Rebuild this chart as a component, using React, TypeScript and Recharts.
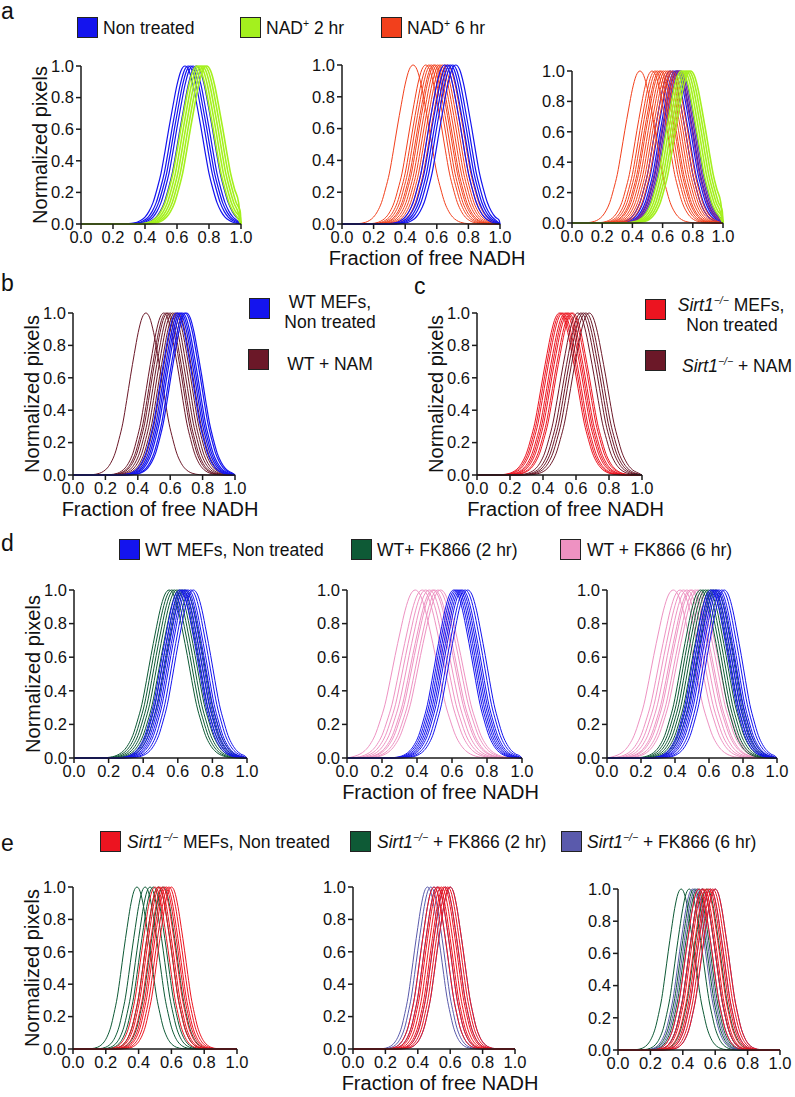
import React from 'react';
import { LineChart, Line, XAxis, YAxis } from 'recharts';

const X_TICKS = [0, 0.2, 0.4, 0.6, 0.8, 1.0];
const Y_TICKS = [0, 0.2, 0.4, 0.6, 0.8, 1.0];

// half of one normalised trace: offset from the peak (in spreads) and height
const SHAPE_OFFSETS = [0, 0.25, 0.5, 0.75, 1, 1.25, 1.5, 1.75, 2, 2.25, 2.5, 2.75, 3, 3.5, 4];
const SHAPE_HEIGHTS = [1, 0.97, 0.88, 0.75, 0.61, 0.46, 0.32, 0.22, 0.135, 0.08, 0.044, 0.023, 0.011, 0.002, 0];

const BLUE = '#1414ee';
const LIME = '#a4f01e';
const ORANGE = '#f2401c';
const PURPLE = '#7a2a9a';
const MAROON = '#6b1828';
const RED = '#ec1420';
const DKGREEN = '#0e5a36';
const PINK = '#ee92c2';
const SLATE = '#5a5aac';

// peak positions (fraction of free NADH), one value per cell trace
const aNonTreated = [0.65, 0.67, 0.685, 0.7, 0.72];
const aNad2 = [0.725, 0.74, 0.755, 0.77, 0.785];
const aNad6 = [0.45, 0.53, 0.55, 0.565, 0.58, 0.59, 0.605, 0.62, 0.635, 0.65, 0.665];
const aOverlap = [0.695, 0.71];
const bWt = [0.64, 0.655, 0.665, 0.675, 0.69, 0.7];
const bNam = [0.45, 0.56, 0.575, 0.585, 0.6, 0.615, 0.63, 0.645];
const cSirt = [0.5, 0.51, 0.52, 0.535, 0.545, 0.555, 0.57, 0.58];
const cNam = [0.61, 0.63, 0.645, 0.66, 0.68];
const dWt = [0.61, 0.62, 0.63, 0.64, 0.65, 0.66, 0.675, 0.69];
const dFk2 = [0.55, 0.565, 0.58, 0.595, 0.61, 0.625, 0.64];
const dFk6 = [0.39, 0.43, 0.45, 0.47, 0.49, 0.5, 0.52, 0.535];
const eSirt = [0.5, 0.52, 0.53, 0.545, 0.56, 0.57, 0.585, 0.6];
const eFk2 = [0.39, 0.44, 0.47, 0.49, 0.52, 0.55];
const eFk6 = [0.46, 0.48, 0.5, 0.52, 0.57, 0.6];

type Group = { peaks: number[]; spread: number; color: string; width: number };
type Plot = {
  left: number;
  top: number;
  right: number;
  bottom: number;
  groups: Group[];
  yTitle?: boolean;
  xTitle?: boolean;
};

const buildTrace = (peak: number, spread: number) => {
  const offs = [...SHAPE_OFFSETS.slice(1).reverse().map((o) => -o), ...SHAPE_OFFSETS];
  const hs = [...SHAPE_HEIGHTS.slice(1).reverse(), ...SHAPE_HEIGHTS];
  const pts = [{ x: 0, y: 0 }];
  offs.forEach((o, i) => {
    const x = peak + o * spread;
    if (x > 0 && x < 1) pts.push({ x, y: hs[i] });
  });
  pts.push({ x: 1, y: 0 });
  return pts;
};

const plots: Plot[] = [
  {
    left: 81, top: 66, right: 241, bottom: 224, yTitle: true,
    groups: [
      { peaks: aNonTreated, spread: 0.1, color: BLUE, width: 1.2 },
      { peaks: aNad2, spread: 0.1, color: LIME, width: 1.6 },
    ],
  },
  {
    left: 342, top: 65, right: 500, bottom: 224, xTitle: true,
    groups: [
      { peaks: aNad6, spread: 0.1, color: ORANGE, width: 1 },
      { peaks: aNonTreated, spread: 0.1, color: BLUE, width: 1.2 },
    ],
  },
  {
    left: 572, top: 71, right: 723, bottom: 223,
    groups: [
      { peaks: aNonTreated, spread: 0.1, color: BLUE, width: 1.2 },
      { peaks: aOverlap, spread: 0.1, color: PURPLE, width: 1.4 },
      { peaks: aNad6, spread: 0.1, color: ORANGE, width: 1 },
      { peaks: aNad2, spread: 0.1, color: LIME, width: 1.6 },
    ],
  },
  {
    left: 73, top: 313, right: 235, bottom: 475, yTitle: true, xTitle: true,
    groups: [
      { peaks: bNam, spread: 0.095, color: MAROON, width: 1 },
      { peaks: bWt, spread: 0.095, color: BLUE, width: 1.2 },
    ],
  },
  {
    left: 477, top: 313, right: 642, bottom: 475, yTitle: true, xTitle: true,
    groups: [
      { peaks: cSirt, spread: 0.1, color: RED, width: 1 },
      { peaks: cNam, spread: 0.1, color: MAROON, width: 1 },
    ],
  },
  {
    left: 74, top: 590, right: 247, bottom: 758, yTitle: true,
    groups: [
      { peaks: dFk2, spread: 0.105, color: DKGREEN, width: 1 },
      { peaks: dWt, spread: 0.1, color: BLUE, width: 1 },
    ],
  },
  {
    left: 347, top: 590, right: 522, bottom: 758, xTitle: true,
    groups: [
      { peaks: dFk6, spread: 0.115, color: PINK, width: 1 },
      { peaks: dWt, spread: 0.1, color: BLUE, width: 1 },
    ],
  },
  {
    left: 607, top: 590, right: 777, bottom: 758,
    groups: [
      { peaks: dFk6, spread: 0.115, color: PINK, width: 1 },
      { peaks: dFk2, spread: 0.105, color: DKGREEN, width: 1 },
      { peaks: dWt, spread: 0.1, color: BLUE, width: 1 },
    ],
  },
  {
    left: 73, top: 887, right: 237, bottom: 1049, yTitle: true,
    groups: [
      { peaks: eFk2, spread: 0.08, color: DKGREEN, width: 1 },
      { peaks: eSirt, spread: 0.08, color: RED, width: 1 },
    ],
  },
  {
    left: 353, top: 887, right: 515, bottom: 1049, xTitle: true,
    groups: [
      { peaks: eFk6, spread: 0.08, color: SLATE, width: 1 },
      { peaks: eSirt, spread: 0.08, color: RED, width: 1 },
    ],
  },
  {
    left: 618, top: 889, right: 780, bottom: 1050,
    groups: [
      { peaks: eFk2, spread: 0.08, color: DKGREEN, width: 1 },
      { peaks: eFk6, spread: 0.08, color: SLATE, width: 1 },
      { peaks: eSirt, spread: 0.08, color: RED, width: 1 },
    ],
  },
];

const FONT = '"Liberation Sans", Arial, Helvetica, sans-serif';
const Y_AXIS_W = 62;
const TOP = 10;
const RIGHT = 40;
const X_AXIS_H = 50;
const fmt = (v: number) => v.toFixed(1);

const TracePlot = ({ p, idx }: { p: Plot; idx: number }) => {
  const plotW = p.right - p.left;
  const plotH = p.bottom - p.top;
  const axisStyle = { stroke: '#1a1a1a', strokeWidth: 1.5 };
  return (
    <div style={{ position: 'absolute', left: p.left - Y_AXIS_W, top: p.top - TOP }}>
      <LineChart
        width={Y_AXIS_W + plotW + RIGHT}
        height={TOP + plotH + X_AXIS_H}
        margin={{ top: TOP, right: RIGHT, bottom: 0, left: 0 }}
      >
        <XAxis
          type="number"
          dataKey="x"
          domain={[0, 1]}
          ticks={X_TICKS}
          tickFormatter={fmt}
          height={X_AXIS_H}
          axisLine={axisStyle}
          tickLine={axisStyle}
          tickSize={5}
          tickMargin={2}
          tick={{ fill: '#111', fontSize: 16.5, fontFamily: FONT }}
          label={
            p.xTitle
              ? { value: 'Fraction of free NADH', position: 'insideBottom', offset: 9, dx: 6, fill: '#111', fontSize: 20, fontFamily: FONT }
              : undefined
          }
        />
        <YAxis
          type="number"
          dataKey="y"
          domain={[0, 1]}
          ticks={Y_TICKS}
          tickFormatter={fmt}
          width={Y_AXIS_W}
          axisLine={axisStyle}
          tickLine={axisStyle}
          tickSize={5}
          tickMargin={2}
          tick={{ fill: '#111', fontSize: 16.5, fontFamily: FONT }}
          label={
            p.yTitle
              ? { value: 'Normalized pixels', angle: -90, position: 'insideLeft', offset: 21, fill: '#111', fontSize: 20, fontFamily: FONT, style: { textAnchor: 'middle' } }
              : undefined
          }
        />
        {p.groups.flatMap((g, gi) =>
          g.peaks.map((pk, i) => (
            <Line
              key={`${idx}-${gi}-${i}`}
              data={buildTrace(pk, g.spread)}
              dataKey="y"
              type="monotone"
              stroke={g.color}
              strokeWidth={g.width}
              dot={false}
              activeDot={false}
              isAnimationActive={false}
            />
          ))
        )}
      </LineChart>
    </div>
  );
};

const Sirt = () => (
  <>
    <i>Sirt1</i>
    <sup style={{ fontSize: '0.6em', fontStyle: 'italic', lineHeight: 0 }}>−/−</sup>
  </>
);
const NadPlus = () => (
  <>
    NAD<sup style={{ fontSize: '0.6em', lineHeight: 0 }}>+</sup>
  </>
);

type Swatch = { x: number; y: number; color: string };
const swatches: Swatch[] = [
  { x: 77, y: 17, color: BLUE },
  { x: 240, y: 17, color: LIME },
  { x: 381, y: 17, color: ORANGE },
  { x: 249, y: 298, color: BLUE },
  { x: 248, y: 349, color: MAROON },
  { x: 645, y: 299, color: RED },
  { x: 645, y: 350, color: MAROON },
  { x: 119, y: 539, color: BLUE },
  { x: 351, y: 539, color: DKGREEN },
  { x: 560, y: 539, color: PINK },
  { x: 100, y: 831, color: RED },
  { x: 350, y: 831, color: DKGREEN },
  { x: 561, y: 831, color: SLATE },
];

const Txt = ({ x, y, children, center }: { x: number; y: number; children: React.ReactNode; center?: boolean }) => (
  <div
    style={{
      position: 'absolute',
      left: center ? x - 80 : x,
      width: center ? 160 : undefined,
      textAlign: center ? 'center' : 'left',
      top: y - 9,
      height: 18,
      lineHeight: '18px',
      fontSize: 17.5,
      whiteSpace: 'nowrap',
      color: '#111',
    }}
  >
    {children}
  </div>
);

const Letter = ({ x, y, t }: { x: number; y: number; t: string }) => (
  <div style={{ position: 'absolute', left: x, top: y, fontSize: 23, lineHeight: '23px', color: '#111' }}>{t}</div>
);

export default function App() {
  return (
    <div style={{ position: 'absolute', left: 0, top: 0, width: 795, height: 1097, background: '#fff', fontFamily: FONT }}>
      <Letter x={1} y={0} t="a" />
      <Letter x={1} y={272} t="b" />
      <Letter x={414} y={275} t="c" />
      <Letter x={1} y={532} t="d" />
      <Letter x={1} y={832} t="e" />

      {swatches.map((s, i) => (
        <div
          key={i}
          style={{ position: 'absolute', left: s.x, top: s.y, width: 19, height: 19, background: s.color, border: '1px solid #222' }}
        />
      ))}

      <Txt x={103} y={28}>Non treated</Txt>
      <Txt x={266} y={28}><NadPlus /> 2 hr</Txt>
      <Txt x={407} y={28}><NadPlus /> 6 hr</Txt>

      <Txt x={330} y={302} center>WT MEFs,</Txt>
      <Txt x={330} y={322} center>Non treated</Txt>
      <Txt x={330} y={364} center>WT + NAM</Txt>

      <Txt x={731} y={305} center><Sirt /> MEFs,</Txt>
      <Txt x={732} y={325} center>Non treated</Txt>
      <Txt x={737} y={366} center><Sirt /> + NAM</Txt>

      <Txt x={145} y={550}>WT MEFs, Non treated</Txt>
      <Txt x={377} y={550}>WT+ FK866 (2 hr)</Txt>
      <Txt x={587} y={550}>WT + FK866 (6 hr)</Txt>

      <Txt x={127} y={842}><Sirt /> MEFs, Non treated</Txt>
      <Txt x={377} y={842}><Sirt /> + FK866 (2 hr)</Txt>
      <Txt x={587} y={842}><Sirt /> + FK866 (6 hr)</Txt>

      {plots.map((p, i) => (
        <TracePlot key={i} p={p} idx={i} />
      ))}
    </div>
  );
}
